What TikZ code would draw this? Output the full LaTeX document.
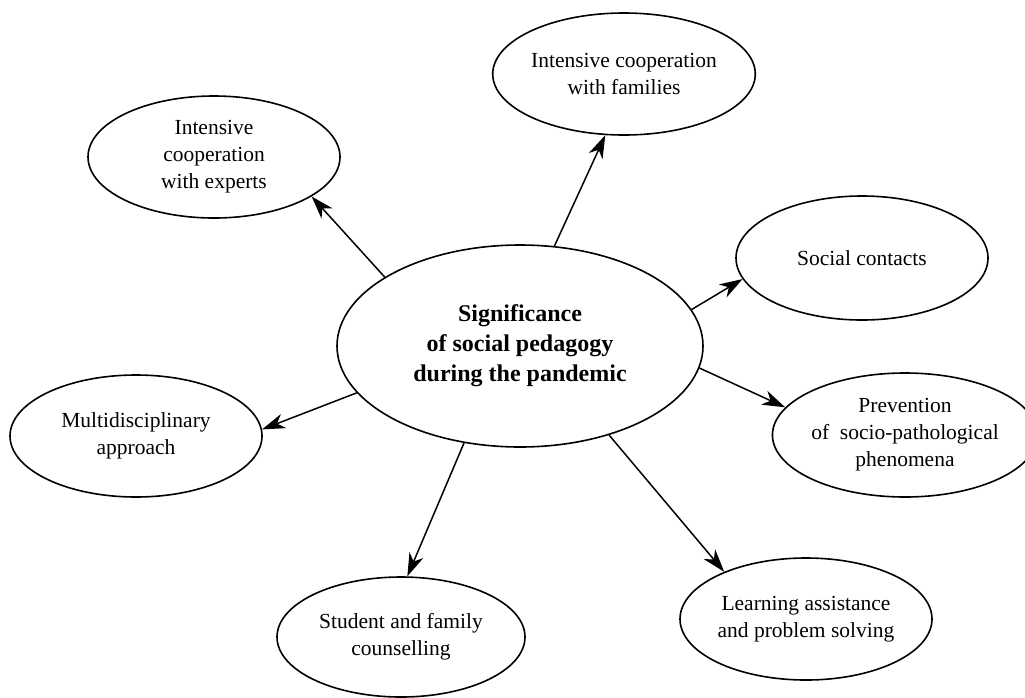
\documentclass[tikz,border=0pt]{standalone}
\usepackage{fontspec}
\setmainfont{Liberation Serif}
\usetikzlibrary{shapes.geometric,arrows.meta}

\begin{document}
\begin{tikzpicture}[x=1pt,y=-1pt,
item/.style={ellipse,draw,line width=1.6pt,align=center,inner sep=0pt,
  font=\fontsize{21.5}{27}\selectfont},
hub/.style={item,font=\bfseries\fontsize{24}{30}\selectfont},
link/.style={line width=1.5pt,-{Stealth[length=23pt,width=15pt,inset=7pt]}}]
\useasboundingbox (0,0) rectangle (1025,697);

\node[hub,minimum width=366pt,minimum height=202pt] (sig) at (520,346)
  {Significance\\of social pedagogy\\during the pandemic};

\node[item,minimum width=252pt,minimum height=122pt] (experts) at (214,157)
  {Intensive\\cooperation\\with experts};
\node[item,minimum width=248pt,minimum height=122pt] (families) at (624,74)
  {Intensive cooperation\\with families};
\node[item,minimum width=252pt,minimum height=124pt] (contacts) at (862,258)
  {Social contacts};
\node[item,minimum width=240pt,minimum height=124pt] (prevention) at (905,435)
  {Prevention\\of~ socio-pathological\\phenomena};
\node[item,minimum width=252pt,minimum height=122pt] (learning) at (806,619)
  {Learning assistance\\and problem solving};
\node[item,minimum width=248pt,minimum height=120pt] (counselling) at (401,637)
  {Student and family\\counselling};
\node[item,minimum width=252pt,minimum height=122pt] (multi) at (136,436)
  {Multidisciplinary\\approach};

\foreach \s/\t/\e in {153.6/experts/338, 71/families/253, 12.5/contacts/190.6,
  353.3/prevention/167.7, 315/learning/150.8, 240/counselling/84, 196/multi/3.6}
  \draw[link] (sig.\s) -- (\t.\e);
\end{tikzpicture}
\end{document}
